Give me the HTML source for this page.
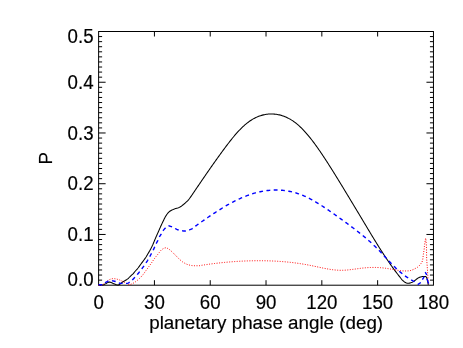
<!DOCTYPE html>
<html><head><meta charset="utf-8"><title>P vs planetary phase angle</title>
<style>
html,body{margin:0;padding:0;background:#fff;}
body{width:463px;height:348px;overflow:hidden;position:relative;font-family:"Liberation Sans",sans-serif;}
</style></head><body>
<svg width="463" height="348" viewBox="0 0 463 348" style="position:absolute;left:0;top:0;display:block">
<rect width="463" height="348" fill="#fff"/>
<filter id="tf" x="0" y="0" width="463" height="348" filterUnits="userSpaceOnUse" color-interpolation-filters="sRGB"><feOffset dx="0" dy="0"/></filter>
<g stroke="#000" stroke-width="1.0" fill="none" stroke-linecap="butt">
<rect x="98.62" y="31.5" width="334.83" height="253.70"/>
<path d="M98.62,280.13h3.5 M433.45,280.13h-3.5 M98.62,275.05h3.5 M433.45,275.05h-3.5 M98.62,269.98h3.5 M433.45,269.98h-3.5 M98.62,264.90h3.5 M433.45,264.90h-3.5 M98.62,259.83h3.5 M433.45,259.83h-3.5 M98.62,254.76h3.5 M433.45,254.76h-3.5 M98.62,249.68h3.5 M433.45,249.68h-3.5 M98.62,244.61h3.5 M433.45,244.61h-3.5 M98.62,239.53h3.5 M433.45,239.53h-3.5 M98.62,234.46h7.0 M433.45,234.46h-7.0 M98.62,229.39h3.5 M433.45,229.39h-3.5 M98.62,224.31h3.5 M433.45,224.31h-3.5 M98.62,219.24h3.5 M433.45,219.24h-3.5 M98.62,214.16h3.5 M433.45,214.16h-3.5 M98.62,209.09h3.5 M433.45,209.09h-3.5 M98.62,204.02h3.5 M433.45,204.02h-3.5 M98.62,198.94h3.5 M433.45,198.94h-3.5 M98.62,193.87h3.5 M433.45,193.87h-3.5 M98.62,188.79h3.5 M433.45,188.79h-3.5 M98.62,183.72h7.0 M433.45,183.72h-7.0 M98.62,178.65h3.5 M433.45,178.65h-3.5 M98.62,173.57h3.5 M433.45,173.57h-3.5 M98.62,168.50h3.5 M433.45,168.50h-3.5 M98.62,163.42h3.5 M433.45,163.42h-3.5 M98.62,158.35h3.5 M433.45,158.35h-3.5 M98.62,153.28h3.5 M433.45,153.28h-3.5 M98.62,148.20h3.5 M433.45,148.20h-3.5 M98.62,143.13h3.5 M433.45,143.13h-3.5 M98.62,138.05h3.5 M433.45,138.05h-3.5 M98.62,132.98h7.0 M433.45,132.98h-7.0 M98.62,127.91h3.5 M433.45,127.91h-3.5 M98.62,122.83h3.5 M433.45,122.83h-3.5 M98.62,117.76h3.5 M433.45,117.76h-3.5 M98.62,112.68h3.5 M433.45,112.68h-3.5 M98.62,107.61h3.5 M433.45,107.61h-3.5 M98.62,102.54h3.5 M433.45,102.54h-3.5 M98.62,97.46h3.5 M433.45,97.46h-3.5 M98.62,92.39h3.5 M433.45,92.39h-3.5 M98.62,87.31h3.5 M433.45,87.31h-3.5 M98.62,82.24h7.0 M433.45,82.24h-7.0 M98.62,77.17h3.5 M433.45,77.17h-3.5 M98.62,72.09h3.5 M433.45,72.09h-3.5 M98.62,67.02h3.5 M433.45,67.02h-3.5 M98.62,61.94h3.5 M433.45,61.94h-3.5 M98.62,56.87h3.5 M433.45,56.87h-3.5 M98.62,51.80h3.5 M433.45,51.80h-3.5 M98.62,46.72h3.5 M433.45,46.72h-3.5 M98.62,41.65h3.5 M433.45,41.65h-3.5 M98.62,36.57h3.5 M433.45,36.57h-3.5 M154.43,285.2v-5 M154.43,31.5v5 M210.23,285.2v-5 M210.23,31.5v5 M266.03,285.2v-5 M266.03,31.5v5 M321.84,285.2v-5 M321.84,31.5v5 M377.64,285.2v-5 M377.64,31.5v5"/>
</g>
<clipPath id="c"><rect x="98.02000000000001" y="30.9" width="336.03" height="255.00"/></clipPath>
<g fill="none" clip-path="url(#c)" stroke-linejoin="round">
<path d="M98.62,285.20 L99.65,285.19 L100.66,285.14 L101.64,285.08 L102.61,285.00 L103.55,284.77 L104.47,284.35 L105.37,283.86 L106.28,283.42 L107.19,282.90 L108.10,282.38 L109.01,282.07 L109.93,282.12 L110.86,282.41 L111.80,282.84 L112.75,283.29 L113.69,283.67 L114.65,284.06 L115.61,284.48 L116.56,284.82 L117.49,284.99 L118.38,284.91 L119.24,284.54 L120.09,283.99 L120.92,283.32 L121.76,282.63 L122.60,281.99 L123.46,281.46 L124.34,280.98 L125.20,280.48 L126.06,279.96 L126.92,279.43 L127.74,278.86 L128.50,278.24 L129.18,277.51 L129.85,276.76 L130.56,276.06 L131.31,275.39 L132.06,274.72 L132.77,274.03 L133.44,273.29 L134.09,272.54 L134.74,271.77 L135.39,271.01 L136.06,270.27 L136.73,269.53 L137.39,268.78 L138.02,268.00 L138.62,267.21 L139.21,266.40 L139.80,265.59 L140.39,264.78 L140.98,263.98 L141.58,263.18 L142.18,262.38 L142.79,261.58 L143.38,260.78 L143.97,259.98 L144.56,259.17 L145.13,258.35 L145.69,257.52 L146.23,256.68 L146.75,255.83 L147.26,254.97 L147.76,254.11 L148.27,253.25 L148.77,252.38 L149.27,251.51 L149.77,250.64 L150.25,249.77 L150.73,248.89 L151.20,248.01 L151.66,247.12 L152.10,246.23 L152.53,245.33 L152.93,244.42 L153.31,243.49 L153.70,242.57 L154.08,241.65 L154.46,240.72 L154.84,239.80 L155.23,238.88 L155.61,237.96 L156.01,237.04 L156.41,236.12 L156.82,235.21 L157.23,234.30 L157.64,233.39 L158.05,232.48 L158.46,231.57 L158.86,230.65 L159.25,229.74 L159.65,228.82 L160.05,227.90 L160.45,226.99 L160.86,226.08 L161.27,225.17 L161.69,224.26 L162.11,223.35 L162.54,222.45 L162.98,221.56 L163.42,220.65 L163.86,219.75 L164.30,218.84 L164.74,217.94 L165.21,217.05 L165.70,216.19 L166.23,215.35 L166.79,214.54 L167.40,213.73 L168.05,212.93 L168.75,212.19 L169.48,211.53 L170.25,210.96 L171.10,210.47 L172.00,210.03 L172.94,209.62 L173.88,209.23 L174.81,208.87 L175.76,208.55 L176.73,208.26 L177.69,207.96 L178.63,207.63 L179.53,207.24 L180.39,206.76 L181.22,206.22 L182.04,205.62 L182.84,204.99 L183.62,204.37 L184.39,203.74 L185.15,203.09 L185.90,202.42 L186.64,201.73 L187.34,201.02 L188.02,200.30 L188.67,199.55 L189.30,198.78 L189.90,197.99 L190.49,197.18 L191.06,196.36 L191.63,195.53 L192.19,194.69 L192.75,193.86 L193.31,193.03 L193.88,192.21 L194.45,191.39 L195.01,190.56 L195.56,189.73 L196.12,188.90 L196.68,188.07 L197.24,187.25 L197.81,186.42 L198.37,185.60 L198.93,184.77 L199.49,183.95 L200.05,183.12 L200.62,182.29 L201.18,181.47 L201.74,180.64 L202.31,179.82 L202.87,179.00 L203.44,178.17 L204.00,177.35 L204.57,176.52 L205.13,175.70 L205.70,174.88 L206.27,174.06 L206.83,173.23 L207.40,172.41 L207.97,171.59 L208.54,170.77 L209.11,169.95 L209.68,169.13 L210.25,168.31 L210.82,167.49 L211.39,166.67 L211.97,165.85 L212.54,165.03 L213.11,164.22 L213.69,163.40 L214.27,162.58 L214.84,161.77 L215.42,160.95 L216.00,160.14 L216.58,159.33 L217.16,158.51 L217.74,157.70 L218.33,156.89 L218.91,156.08 L219.49,155.27 L220.08,154.46 L220.67,153.65 L221.26,152.85 L221.85,152.04 L222.44,151.23 L223.03,150.43 L223.62,149.62 L224.22,148.82 L224.81,148.02 L225.41,147.22 L226.01,146.42 L226.61,145.62 L227.21,144.83 L227.82,144.03 L228.43,143.24 L229.04,142.45 L229.65,141.66 L230.27,140.88 L230.89,140.09 L231.51,139.31 L232.14,138.53 L232.77,137.76 L233.40,136.99 L234.04,136.22 L234.69,135.46 L235.34,134.70 L235.99,133.94 L236.65,133.19 L237.32,132.45 L237.99,131.71 L238.67,130.97 L239.35,130.25 L240.04,129.53 L240.74,128.81 L241.45,128.11 L242.17,127.41 L242.89,126.73 L243.63,126.05 L244.37,125.38 L245.12,124.72 L245.88,124.07 L246.65,123.44 L247.44,122.82 L248.23,122.21 L249.03,121.62 L249.85,121.04 L250.68,120.48 L251.52,119.94 L252.37,119.42 L253.23,118.91 L254.11,118.43 L254.99,117.97 L255.89,117.52 L256.79,117.11 L257.71,116.71 L258.64,116.34 L259.58,116.00 L260.53,115.68 L261.48,115.38 L262.44,115.12 L263.41,114.88 L264.39,114.66 L265.37,114.48 L266.36,114.33 L267.35,114.20 L268.35,114.10 L269.34,114.05 L270.34,114.01 L271.34,113.99 L272.34,114.00 L273.34,114.05 L274.34,114.12 L275.33,114.21 L276.32,114.34 L277.31,114.49 L278.29,114.67 L279.27,114.88 L280.24,115.11 L281.20,115.37 L282.16,115.66 L283.11,115.98 L284.05,116.31 L284.98,116.68 L285.90,117.07 L286.81,117.48 L287.71,117.91 L288.60,118.36 L289.48,118.84 L290.35,119.33 L291.21,119.85 L292.05,120.38 L292.88,120.93 L293.71,121.50 L294.52,122.08 L295.32,122.68 L296.11,123.29 L296.88,123.92 L297.65,124.56 L298.41,125.22 L299.15,125.88 L299.89,126.56 L300.61,127.25 L301.33,127.94 L302.04,128.65 L302.74,129.36 L303.43,130.08 L304.11,130.81 L304.79,131.55 L305.46,132.29 L306.12,133.04 L306.77,133.79 L307.42,134.55 L308.07,135.31 L308.70,136.08 L309.34,136.86 L309.96,137.63 L310.59,138.42 L311.20,139.20 L311.82,139.99 L312.42,140.78 L313.03,141.58 L313.63,142.38 L314.23,143.18 L314.82,143.98 L315.41,144.79 L315.99,145.60 L316.58,146.41 L317.16,147.22 L317.73,148.04 L318.31,148.86 L318.88,149.68 L319.45,150.50 L320.01,151.32 L320.58,152.15 L321.14,152.97 L321.70,153.80 L322.25,154.63 L322.81,155.46 L323.36,156.29 L323.91,157.12 L324.46,157.96 L325.01,158.79 L325.56,159.63 L326.10,160.47 L326.65,161.30 L327.19,162.14 L327.73,162.98 L328.27,163.82 L328.81,164.66 L329.34,165.51 L329.88,166.35 L330.42,167.19 L330.95,168.04 L331.48,168.88 L332.02,169.73 L332.55,170.57 L333.08,171.42 L333.61,172.27 L334.13,173.12 L334.66,173.96 L335.19,174.81 L335.72,175.66 L336.24,176.51 L336.77,177.36 L337.29,178.21 L337.81,179.06 L338.34,179.91 L338.86,180.77 L339.38,181.62 L339.90,182.47 L340.42,183.32 L340.94,184.18 L341.46,185.03 L341.98,185.88 L342.50,186.74 L343.02,187.59 L343.54,188.44 L344.05,189.30 L344.57,190.15 L345.09,191.01 L345.61,191.86 L346.12,192.72 L346.64,193.57 L347.16,194.43 L347.67,195.28 L348.19,196.14 L348.71,196.99 L349.22,197.85 L349.74,198.70 L350.26,199.56 L350.77,200.41 L351.29,201.27 L351.80,202.12 L352.32,202.98 L352.84,203.83 L353.35,204.69 L353.87,205.54 L354.38,206.40 L354.90,207.26 L355.41,208.11 L355.93,208.97 L356.44,209.82 L356.96,210.68 L357.47,211.54 L357.99,212.39 L358.50,213.25 L359.01,214.10 L359.53,214.96 L360.04,215.82 L360.56,216.67 L361.07,217.53 L361.58,218.39 L362.10,219.25 L362.61,220.10 L363.12,220.96 L363.64,221.82 L364.15,222.67 L364.66,223.53 L365.17,224.39 L365.69,225.25 L366.20,226.10 L366.71,226.96 L367.23,227.82 L367.74,228.67 L368.25,229.53 L368.77,230.39 L369.28,231.24 L369.80,232.10 L370.31,232.96 L370.83,233.81 L371.34,234.67 L371.86,235.52 L372.38,236.37 L372.90,237.23 L373.42,238.08 L373.94,238.93 L374.46,239.79 L374.98,240.64 L375.51,241.49 L376.03,242.34 L376.56,243.19 L377.08,244.04 L377.61,244.88 L378.14,245.73 L378.67,246.58 L379.20,247.42 L379.74,248.27 L380.27,249.11 L380.81,249.95 L381.35,250.80 L381.89,251.64 L382.43,252.48 L382.97,253.31 L383.52,254.15 L384.06,254.99 L384.61,255.82 L385.16,256.65 L385.72,257.49 L386.27,258.32 L386.83,259.15 L387.39,259.97 L387.95,260.80 L388.52,261.62 L389.08,262.45 L389.65,263.27 L390.22,264.09 L390.80,264.90 L391.38,265.72 L391.96,266.53 L392.54,267.34 L393.13,268.15 L393.71,268.96 L394.31,269.76 L394.90,270.57 L395.50,271.37 L396.10,272.16 L396.71,272.96 L397.31,273.75 L397.92,274.54 L398.53,275.33 L399.15,276.12 L399.78,276.90 L400.41,277.70 L401.03,278.51 L401.67,279.30 L402.34,280.05 L403.04,280.74 L403.78,281.34 L404.60,281.97 L405.48,282.58 L406.39,283.06 L407.32,283.29 L408.27,283.26 L409.26,283.12 L410.28,282.89 L411.26,282.61 L412.20,282.30 L413.05,281.87 L413.87,281.27 L414.67,280.62 L415.48,280.02 L416.27,279.38 L417.06,278.74 L417.87,278.16 L418.72,277.69 L419.63,277.30 L420.58,276.95 L421.56,276.68 L422.54,276.54 L423.60,276.47 L424.64,276.42 L425.53,276.40 L426.26,276.99 L426.79,277.98 L427.10,278.89 L427.34,279.88 L427.54,280.88 L427.76,281.85 L427.95,282.83 L428.14,283.81 L428.30,284.80" stroke="#000" stroke-width="1.05"/>
<path d="M98.62,285.20 L99.71,285.18 L100.73,285.11 L101.68,285.01 L102.58,284.85 L103.40,284.25 L104.18,283.60 L104.93,282.94 L105.68,282.27 L106.45,281.64 L107.25,281.02 L108.07,280.41 L108.92,279.87 L109.80,279.46 L110.73,279.13 L111.71,278.84 L112.71,278.65 L113.69,278.61 L114.68,278.69 L115.68,278.87 L116.67,279.09 L117.64,279.33 L118.59,279.60 L119.52,279.94 L120.45,280.33 L121.36,280.76 L122.26,281.21 L123.16,281.65 L124.04,282.12 L124.91,282.62 L125.78,283.11 L126.66,283.59 L127.55,284.15 L128.46,284.64 L129.37,284.79 L130.32,284.53 L131.27,284.10 L132.19,283.71 L133.10,283.27 L133.96,282.79 L134.80,282.26 L135.63,281.68 L136.43,281.08 L137.22,280.45 L137.99,279.81 L138.73,279.16 L139.47,278.48 L140.19,277.78 L140.89,277.06 L141.57,276.32 L142.23,275.58 L142.87,274.82 L143.49,274.03 L144.08,273.23 L144.67,272.42 L145.25,271.60 L145.83,270.78 L146.41,269.96 L147.00,269.16 L147.59,268.35 L148.18,267.54 L148.76,266.73 L149.35,265.92 L149.93,265.11 L150.52,264.30 L151.09,263.48 L151.66,262.66 L152.23,261.83 L152.79,261.01 L153.35,260.18 L153.92,259.36 L154.50,258.55 L155.09,257.74 L155.70,256.95 L156.32,256.16 L156.95,255.39 L157.58,254.61 L158.22,253.84 L158.85,253.06 L159.46,252.23 L160.07,251.39 L160.71,250.60 L161.39,249.90 L162.14,249.34 L163.00,248.79 L163.94,248.29 L164.90,247.93 L165.85,247.80 L166.78,248.00 L167.72,248.46 L168.61,248.99 L169.44,249.52 L170.21,250.14 L170.96,250.82 L171.69,251.52 L172.42,252.21 L173.14,252.90 L173.85,253.61 L174.55,254.32 L175.25,255.04 L175.95,255.75 L176.66,256.46 L177.35,257.18 L178.05,257.90 L178.76,258.61 L179.48,259.29 L180.23,259.96 L180.99,260.62 L181.76,261.26 L182.56,261.87 L183.38,262.43 L184.23,262.94 L185.11,263.44 L186.01,263.90 L186.93,264.30 L187.86,264.62 L188.82,264.89 L189.79,265.15 L190.77,265.38 L191.77,265.56 L192.76,265.67 L193.76,265.71 L194.75,265.72 L195.76,265.73 L196.76,265.74 L197.76,265.74 L198.76,265.74 L199.75,265.66 L200.73,265.47 L201.72,265.28 L202.71,265.13 L203.70,264.98 L204.69,264.83 L205.67,264.69 L206.66,264.55 L207.65,264.41 L208.64,264.27 L209.63,264.14 L210.63,264.00 L211.62,263.87 L212.61,263.75 L213.60,263.62 L214.59,263.50 L215.58,263.38 L216.58,263.26 L217.57,263.15 L218.56,263.03 L219.56,262.92 L220.55,262.82 L221.54,262.71 L222.54,262.61 L223.53,262.51 L224.53,262.41 L225.52,262.32 L226.52,262.23 L227.51,262.14 L228.51,262.05 L229.51,261.97 L230.50,261.88 L231.50,261.81 L232.50,261.73 L233.49,261.66 L234.49,261.58 L235.49,261.52 L236.48,261.45 L237.48,261.39 L238.48,261.33 L239.48,261.27 L240.48,261.22 L241.47,261.16 L242.47,261.12 L243.47,261.07 L244.47,261.03 L245.47,260.99 L246.47,260.95 L247.47,260.91 L248.47,260.88 L249.47,260.85 L250.46,260.82 L251.46,260.80 L252.46,260.78 L253.46,260.76 L254.46,260.75 L255.46,260.73 L256.46,260.73 L257.46,260.72 L258.46,260.71 L259.46,260.72 L260.46,260.72 L261.46,260.72 L262.46,260.73 L263.46,260.74 L264.46,260.76 L265.46,260.77 L266.46,260.80 L267.46,260.82 L268.46,260.85 L269.45,260.88 L270.45,260.91 L271.45,260.95 L272.45,260.99 L273.45,261.04 L274.45,261.08 L275.45,261.14 L276.44,261.19 L277.44,261.25 L278.44,261.31 L279.44,261.38 L280.43,261.45 L281.43,261.52 L282.43,261.60 L283.42,261.68 L284.42,261.76 L285.42,261.85 L286.41,261.94 L287.41,262.04 L288.40,262.14 L289.40,262.24 L290.39,262.35 L291.38,262.46 L292.38,262.57 L293.37,262.69 L294.36,262.82 L295.35,262.95 L296.34,263.08 L297.33,263.21 L298.32,263.35 L299.31,263.50 L300.30,263.65 L301.29,263.80 L302.28,263.96 L303.26,264.12 L304.25,264.28 L305.23,264.45 L306.22,264.63 L307.20,264.80 L308.18,264.99 L309.17,265.17 L310.15,265.37 L311.13,265.56 L312.11,265.76 L313.09,265.96 L314.06,266.17 L315.04,266.38 L316.02,266.59 L317.00,266.80 L317.97,267.01 L318.95,267.22 L319.93,267.43 L320.91,267.64 L321.88,267.84 L322.86,268.04 L323.84,268.24 L324.82,268.43 L325.81,268.62 L326.79,268.80 L327.77,268.97 L328.76,269.14 L329.75,269.30 L330.73,269.45 L331.72,269.59 L332.71,269.72 L333.71,269.84 L334.70,269.95 L335.70,270.05 L336.69,270.12 L337.69,270.19 L338.69,270.25 L339.69,270.28 L340.69,270.28 L341.69,270.28 L342.69,270.28 L343.69,270.26 L344.68,270.20 L345.68,270.13 L346.68,270.06 L347.67,269.97 L348.67,269.87 L349.66,269.76 L350.66,269.64 L351.65,269.52 L352.64,269.39 L353.63,269.26 L354.62,269.12 L355.61,268.99 L356.60,268.85 L357.59,268.71 L358.58,268.58 L359.57,268.44 L360.56,268.32 L361.56,268.20 L362.55,268.08 L363.54,267.98 L364.54,267.88 L365.53,267.79 L366.53,267.71 L367.53,267.64 L368.53,267.58 L369.52,267.53 L370.52,267.49 L371.52,267.46 L372.52,267.44 L373.52,267.44 L374.52,267.44 L375.52,267.45 L376.52,267.47 L377.52,267.51 L378.52,267.56 L379.51,267.62 L380.51,267.69 L381.51,267.78 L382.50,267.87 L383.50,267.99 L384.49,268.11 L385.48,268.24 L386.47,268.39 L387.46,268.54 L388.44,268.70 L389.43,268.87 L390.41,269.04 L391.40,269.21 L392.38,269.38 L393.37,269.56 L394.35,269.73 L395.34,269.90 L396.32,270.07 L397.31,270.22 L398.30,270.37 L399.29,270.51 L400.28,270.63 L401.27,270.74 L402.27,270.83 L403.27,270.89 L404.27,270.93 L405.27,270.96 L406.27,270.96 L407.26,270.92 L408.26,270.86 L409.26,270.78 L410.24,270.61 L411.20,270.33 L412.14,269.98 L413.07,269.59 L413.98,269.19 L414.87,268.72 L415.74,268.23 L416.63,267.75 L417.49,267.25 L418.28,266.65 L419.01,265.96 L419.69,265.23 L420.32,264.45 L420.91,263.64 L421.48,262.81 L422.01,261.95 L422.37,261.04 L422.62,260.07 L422.80,259.08 L422.93,258.09 L423.03,257.09 L423.15,256.10 L423.28,255.11 L423.42,254.12 L423.56,253.13 L423.70,252.14 L423.85,251.15 L424.02,250.16 L424.18,249.18 L424.27,248.18 L424.34,247.18 L424.43,246.19 L424.54,245.20 L424.67,244.20 L424.82,243.21 L424.97,242.23 L425.13,241.12 L425.33,239.82 L425.52,238.72 L425.69,238.20 L425.81,238.58 L425.92,239.62 L426.01,240.92 L426.11,242.08 L426.21,243.08 L426.31,244.07 L426.38,245.07 L426.43,246.07 L426.46,247.07 L426.49,248.07 L426.51,249.07 L426.53,250.07 L426.55,251.07 L426.56,252.07 L426.57,253.07 L426.58,254.06 L426.60,255.06 L426.61,256.06 L426.63,257.06 L426.65,258.06 L426.69,259.06 L426.74,260.06 L426.80,261.05 L426.88,262.05 L426.96,263.05 L427.04,264.05 L427.12,265.04 L427.20,266.04 L427.26,267.04 L427.33,268.03 L427.40,269.03 L427.47,270.03 L427.53,271.03 L427.59,272.02 L427.65,273.02 L427.71,274.02 L427.77,275.02 L427.83,276.02 L427.89,277.01 L427.94,278.01 L428.00,279.01 L428.05,280.01 L428.11,281.01 L428.16,282.00 L428.21,283.00 L428.25,284.00 L428.30,285.00" stroke="#ff0000" stroke-width="1.0" stroke-dasharray="1.0 1.53"/>
<path d="M98.62,284.80 L99.70,284.79 L100.73,284.77 L101.70,284.74 L102.60,284.69 L103.42,284.26 L104.18,283.50 L104.96,282.79 L105.82,282.30 L106.73,281.85 L107.66,281.45 L108.60,281.13 L109.57,280.84 L110.55,280.70 L111.55,280.75 L112.54,280.85 L113.54,281.00 L114.52,281.21 L115.49,281.46 L116.43,281.76 L117.33,282.22 L118.22,282.69 L119.16,283.00 L120.14,283.26 L121.13,283.40 L122.12,283.40 L123.12,283.40 L124.13,283.40 L125.13,283.40 L126.14,283.40 L127.11,283.37 L128.07,283.08 L129.00,282.61 L129.87,282.08 L130.66,281.53 L131.41,280.87 L132.12,280.14 L132.82,279.40 L133.52,278.68 L134.21,277.96 L134.89,277.23 L135.56,276.49 L136.23,275.74 L136.89,274.98 L137.54,274.22 L138.18,273.46 L138.82,272.69 L139.45,271.91 L140.07,271.13 L140.68,270.34 L141.29,269.55 L141.89,268.75 L142.49,267.94 L143.08,267.13 L143.66,266.32 L144.24,265.51 L144.81,264.69 L145.38,263.86 L145.94,263.03 L146.49,262.20 L147.03,261.36 L147.56,260.51 L148.07,259.65 L148.57,258.79 L149.06,257.92 L149.54,257.04 L150.02,256.16 L150.50,255.28 L150.97,254.40 L151.44,253.52 L151.91,252.63 L152.37,251.75 L152.82,250.86 L153.27,249.96 L153.71,249.07 L154.14,248.16 L154.55,247.25 L154.96,246.34 L155.36,245.42 L155.78,244.51 L156.20,243.61 L156.65,242.71 L157.13,241.84 L157.63,240.97 L158.11,240.09 L158.54,239.19 L158.91,238.26 L159.27,237.32 L159.69,236.42 L160.20,235.57 L160.76,234.74 L161.32,233.90 L161.84,233.05 L162.31,232.16 L162.78,231.28 L163.31,230.44 L163.91,229.63 L164.57,228.86 L165.27,228.14 L166.01,227.48 L166.82,226.76 L167.68,226.16 L168.57,225.90 L169.49,226.01 L170.44,226.31 L171.41,226.70 L172.37,227.12 L173.29,227.51 L174.19,227.97 L175.07,228.48 L175.96,228.98 L176.85,229.44 L177.76,229.80 L178.70,230.05 L179.67,230.29 L180.66,230.52 L181.66,230.71 L182.66,230.87 L183.66,230.97 L184.64,231.00 L185.62,230.94 L186.61,230.77 L187.60,230.53 L188.58,230.22 L189.54,229.86 L190.48,229.47 L191.38,229.08 L192.23,228.62 L193.04,228.03 L193.83,227.38 L194.63,226.77 L195.44,226.18 L196.25,225.60 L197.06,225.02 L197.88,224.44 L198.69,223.85 L199.51,223.27 L200.32,222.70 L201.14,222.12 L201.95,221.54 L202.77,220.97 L203.59,220.39 L204.41,219.82 L205.23,219.25 L206.05,218.68 L206.87,218.11 L207.70,217.54 L208.52,216.98 L209.35,216.42 L210.18,215.86 L211.01,215.30 L211.84,214.74 L212.67,214.19 L213.50,213.64 L214.34,213.09 L215.18,212.54 L216.01,212.00 L216.85,211.46 L217.70,210.92 L218.54,210.38 L219.39,209.85 L220.24,209.32 L221.09,208.80 L221.94,208.27 L222.79,207.76 L223.65,207.24 L224.51,206.73 L225.37,206.22 L226.24,205.72 L227.10,205.22 L227.97,204.73 L228.84,204.24 L229.72,203.75 L230.60,203.28 L231.48,202.80 L232.36,202.33 L233.24,201.87 L234.13,201.41 L235.02,200.96 L235.92,200.51 L236.82,200.07 L237.72,199.63 L238.62,199.21 L239.53,198.78 L240.44,198.37 L241.35,197.96 L242.27,197.56 L243.19,197.17 L244.11,196.79 L245.04,196.41 L245.97,196.05 L246.90,195.69 L247.84,195.34 L248.78,195.00 L249.72,194.67 L250.67,194.35 L251.62,194.04 L252.57,193.74 L253.53,193.44 L254.49,193.16 L255.45,192.89 L256.41,192.63 L257.38,192.39 L258.35,192.15 L259.33,191.92 L260.30,191.71 L261.28,191.51 L262.27,191.32 L263.25,191.14 L264.24,190.98 L265.22,190.82 L266.21,190.68 L267.21,190.56 L268.20,190.44 L269.19,190.34 L270.19,190.26 L271.19,190.18 L272.18,190.12 L273.18,190.08 L274.18,190.05 L275.18,190.03 L276.18,190.03 L277.18,190.04 L278.18,190.06 L279.18,190.09 L280.18,190.15 L281.18,190.22 L282.17,190.30 L283.17,190.40 L284.16,190.51 L285.15,190.63 L286.14,190.77 L287.13,190.93 L288.12,191.09 L289.10,191.28 L290.08,191.48 L291.06,191.69 L292.03,191.91 L293.00,192.15 L293.97,192.40 L294.93,192.67 L295.89,192.95 L296.85,193.24 L297.80,193.55 L298.75,193.87 L299.69,194.20 L300.63,194.54 L301.56,194.90 L302.49,195.27 L303.42,195.65 L304.34,196.04 L305.25,196.45 L306.16,196.86 L307.06,197.29 L307.96,197.73 L308.86,198.17 L309.75,198.63 L310.63,199.09 L311.52,199.56 L312.39,200.04 L313.27,200.53 L314.13,201.02 L315.00,201.52 L315.86,202.03 L316.72,202.54 L317.57,203.06 L318.43,203.59 L319.27,204.12 L320.12,204.65 L320.96,205.19 L321.80,205.73 L322.64,206.27 L323.48,206.82 L324.31,207.38 L325.14,207.93 L325.97,208.49 L326.80,209.05 L327.62,209.62 L328.45,210.18 L329.27,210.75 L330.09,211.32 L330.91,211.89 L331.73,212.47 L332.55,213.04 L333.36,213.62 L334.18,214.19 L335.00,214.77 L335.81,215.35 L336.63,215.93 L337.44,216.51 L338.26,217.09 L339.07,217.67 L339.88,218.25 L340.70,218.83 L341.51,219.41 L342.32,220.00 L343.13,220.58 L343.94,221.17 L344.75,221.75 L345.56,222.34 L346.37,222.93 L347.17,223.52 L347.98,224.12 L348.78,224.71 L349.59,225.30 L350.39,225.90 L351.19,226.50 L351.99,227.10 L352.79,227.70 L353.58,228.31 L354.38,228.91 L355.17,229.52 L355.97,230.13 L356.76,230.74 L357.55,231.35 L358.33,231.97 L359.12,232.59 L359.90,233.21 L360.68,233.83 L361.46,234.46 L362.24,235.08 L363.02,235.72 L363.79,236.35 L364.56,236.99 L365.33,237.63 L366.09,238.28 L366.85,238.93 L367.60,239.58 L368.36,240.24 L369.10,240.90 L369.85,241.57 L370.59,242.24 L371.33,242.92 L372.06,243.60 L372.79,244.28 L373.51,244.97 L374.23,245.67 L374.95,246.36 L375.66,247.06 L376.37,247.77 L377.08,248.47 L377.78,249.18 L378.48,249.90 L379.18,250.61 L379.88,251.33 L380.57,252.05 L381.26,252.78 L381.94,253.51 L382.63,254.23 L383.31,254.97 L383.99,255.70 L384.67,256.43 L385.35,257.16 L386.03,257.90 L386.70,258.63 L387.38,259.37 L388.06,260.10 L388.74,260.83 L389.43,261.56 L390.11,262.29 L390.80,263.01 L391.49,263.74 L392.18,264.46 L392.88,265.17 L393.58,265.89 L394.29,266.59 L395.00,267.30 L395.72,267.99 L396.44,268.68 L397.17,269.36 L397.91,270.04 L398.66,270.70 L399.41,271.36 L400.18,272.00 L400.95,272.63 L401.73,273.26 L402.52,273.88 L403.30,274.51 L404.09,275.12 L404.89,275.73 L405.69,276.32 L406.51,276.90 L407.33,277.46 L408.17,278.00 L409.02,278.53 L409.87,279.05 L410.74,279.56 L411.60,280.06 L412.47,280.55 L413.35,281.03 L414.28,281.47 L414.98,282.10 L415.50,283.00" stroke="#0000ff" stroke-width="1.4" stroke-dasharray="3.85 3.45" stroke-dashoffset="0.2"/>
<path d="M417.7,284.6 L420.8,282.5 M422.4,279.7 L424.2,276.6 M425.2,272.2 L426.8,275.0 M427.0,278.8 L428.6,283.6" stroke="#0000ff" stroke-width="1.4"/>
</g>
<g font-family="Liberation Sans, sans-serif" font-size="18.7" fill="#000" stroke="#000" stroke-width="0.18" filter="url(#tf)">
<text transform="translate(93.55,42.8) scale(1,1.04)" text-anchor="end">0.5</text>
<text transform="translate(93.55,88.95) scale(1,1.04)" text-anchor="end">0.4</text>
<text transform="translate(93.55,139.7) scale(1,1.04)" text-anchor="end">0.3</text>
<text transform="translate(93.55,190.45) scale(1,1.04)" text-anchor="end">0.2</text>
<text transform="translate(93.55,241.2) scale(1,1.04)" text-anchor="end">0.1</text>
<text transform="translate(93.55,285.55) scale(1,1.04)" text-anchor="end">0.0</text>
<text transform="translate(98.62,308.9) scale(1,1.04)" text-anchor="middle">0</text>
<text transform="translate(154.43,308.9) scale(1,1.04)" text-anchor="middle">30</text>
<text transform="translate(210.23,308.9) scale(1,1.04)" text-anchor="middle">60</text>
<text transform="translate(266.03,308.9) scale(1,1.04)" text-anchor="middle">90</text>
<text transform="translate(321.84,308.9) scale(1,1.04)" text-anchor="middle">120</text>
<text transform="translate(377.64,308.9) scale(1,1.04)" text-anchor="middle">150</text>
<text transform="translate(433.45,308.9) scale(1,1.04)" text-anchor="middle">180</text>
<text x="266.15" y="328.6" font-size="18.8" text-anchor="middle">planetary phase angle (deg)</text>
<text transform="translate(52.3,158.17) rotate(-90)" text-anchor="middle">P</text>
</g>
</svg>
</body></html>
